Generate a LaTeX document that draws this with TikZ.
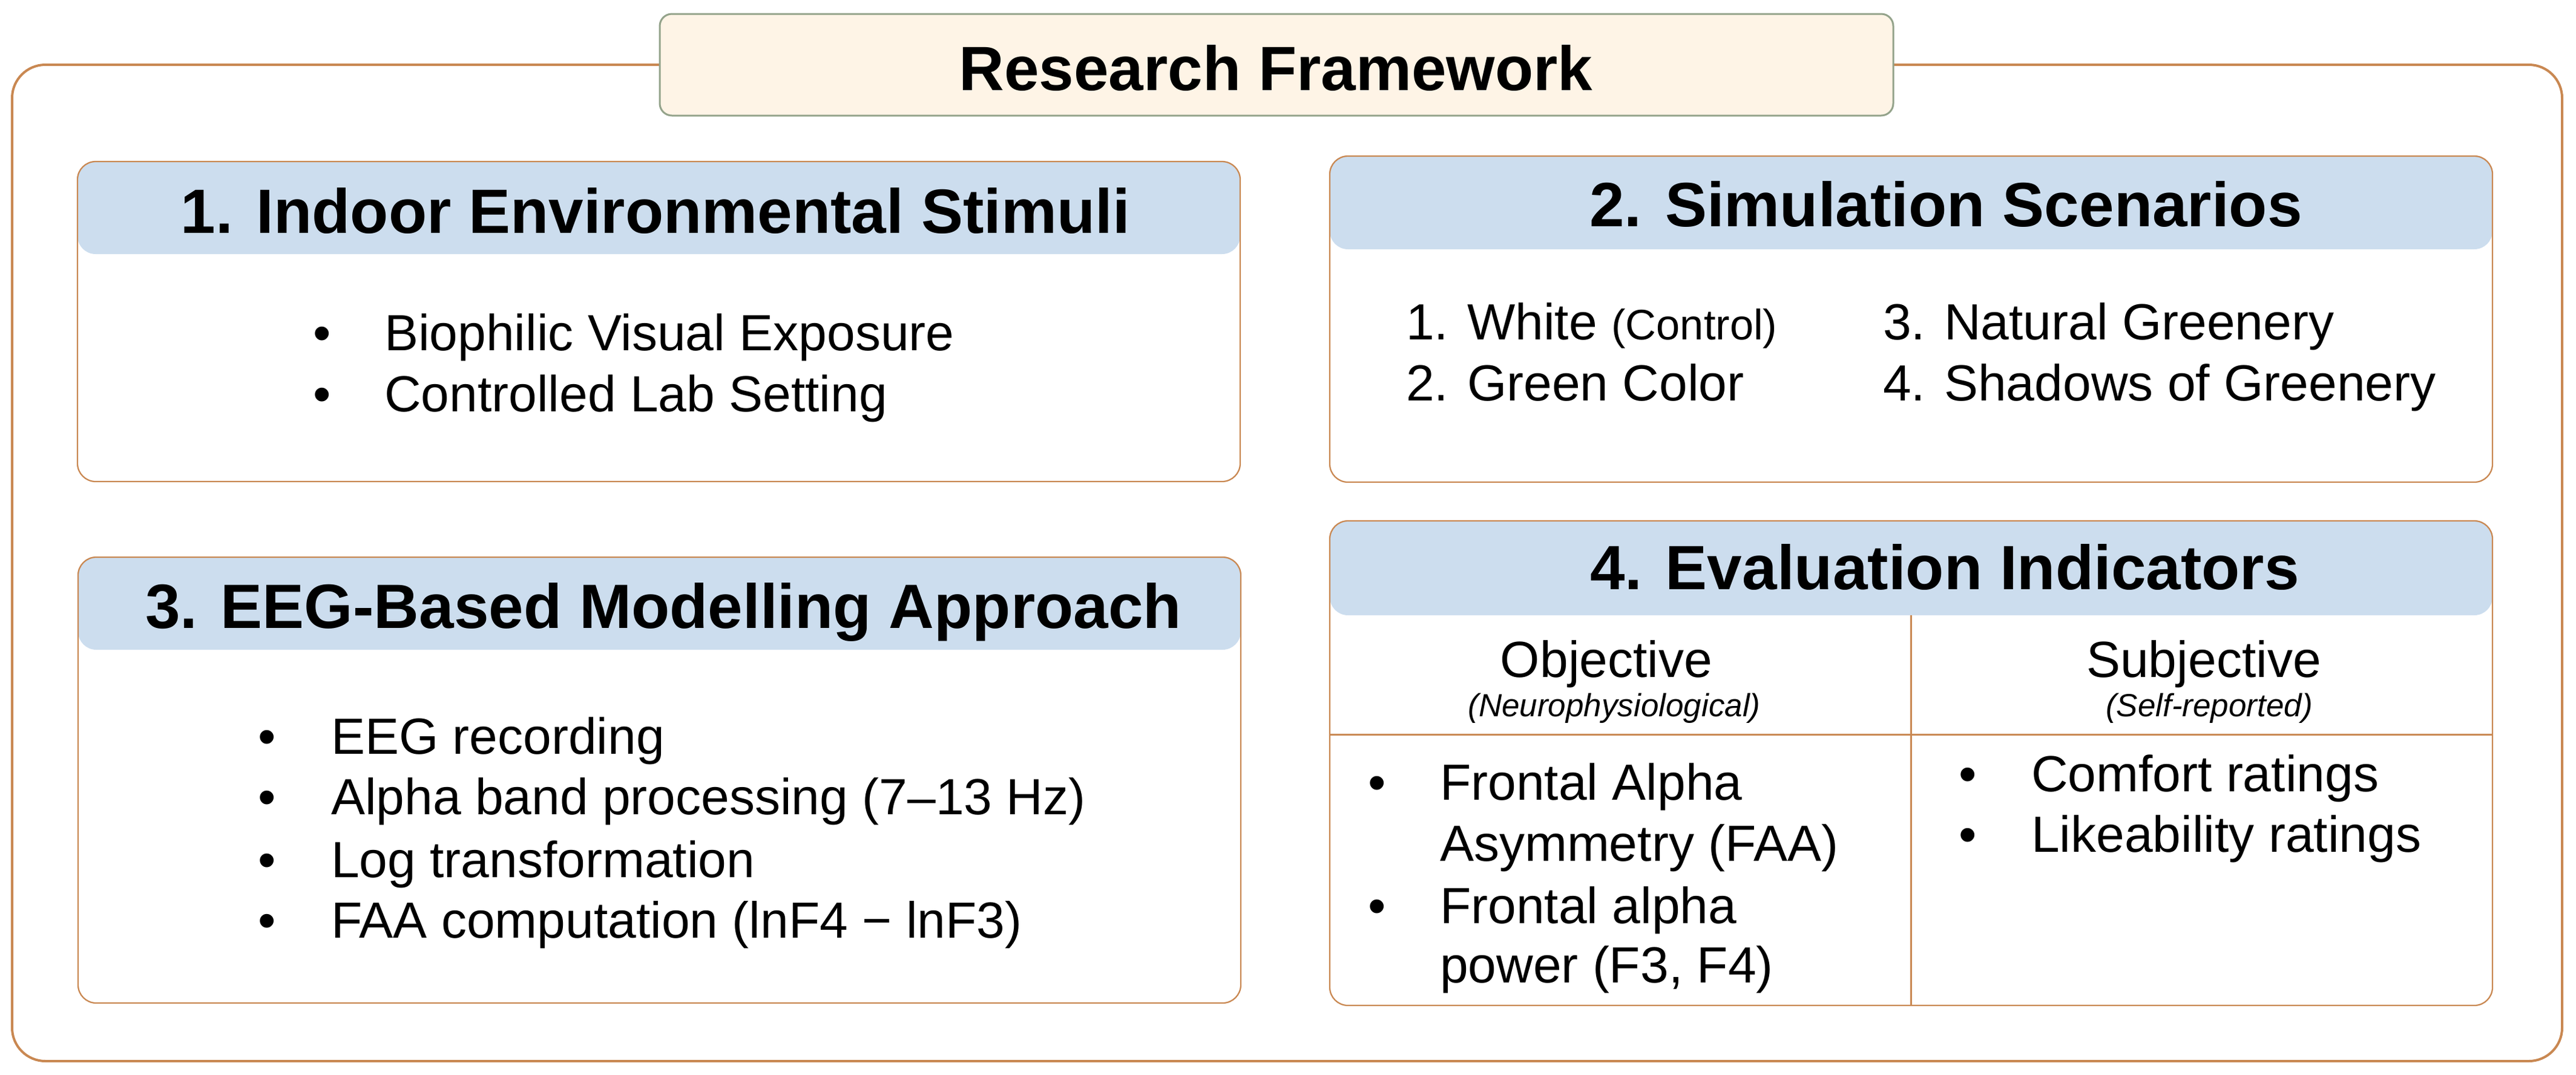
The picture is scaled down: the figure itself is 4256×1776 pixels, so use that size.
\documentclass[tikz,border=0pt]{standalone}
\usepackage{fontspec}
\setmainfont{Liberation Sans}
\usepackage{tikz}
\definecolor{framecol}{HTML}{C98852}
\definecolor{titleline}{HTML}{94A38B}
\definecolor{titlefill}{HTML}{FEF4E6}
\definecolor{bandfill}{HTML}{CCDDEE}

\begin{document}
\begin{tikzpicture}[x=0.2pt, y=-0.2pt,
    outerframe/.style={draw=framecol, line width=0.8pt, rounded corners=11pt},
    titlebox/.style={draw=titleline, fill=titlefill, line width=0.6pt, rounded corners=4pt},
    panel/.style={draw=framecol, line width=0.45pt, rounded corners=6pt},
    headband/.style={fill=bandfill, rounded corners=6pt},
    divider/.style={draw=framecol, line width=0.6pt},
    headtxt/.style={anchor=base, inner sep=0pt, font=\fontsize{20.7}{24}\selectfont\bfseries},
    bullettxt/.style={anchor=base west, inner sep=0pt, font=\fontsize{16.8}{20}\selectfont},
    bulletdot/.style={anchor=base, inner sep=0pt, font=\fontsize{16.8}{20}\selectfont},
    subnote/.style={anchor=base, inner sep=0pt, font=\fontsize{10.6}{12}\selectfont\itshape}]
        \useasboundingbox (0,0) rectangle (4256,1776);

        % outer frame and title
        \draw[outerframe] (20,107) rectangle (4233,1754);
        \draw[titlebox] (1090,23) rectangle (3128,191);
        \node[headtxt] (title) at (2108,149) {Research Framework};

        % 1. stimuli
        \fill[headband] (128,267) rectangle (2049,420);
        \draw[panel] (128,267) rectangle (2049,796);
        \node[headtxt] (h1) at (1083,385) {1. Indoor Environmental Stimuli};
        \node[bulletdot] (d1a) at (532,579) {•};
        \node[bullettxt] (t1a) at (634,579) {Biophilic Visual Exposure};
        \node[bulletdot] (d1b) at (532,680) {•};
        \node[bullettxt] (t1b) at (634,680) {Controlled Lab Setting};

        % 2. scenarios
        \fill[headband] (2197,258) rectangle (4118,412);
        \draw[panel] (2197,258) rectangle (4118,797);
        \node[headtxt] (h2) at (3215,374) {2. Simulation Scenarios};
        \node[bullettxt] (s1) at (2322,561) {1. White {\fontsize{14.1}{16}\selectfont(Control)}};
        \node[bullettxt] (s2) at (2322,662) {2. Green Color};
        \node[bullettxt] (s3) at (3110,561) {3. Natural Greenery};
        \node[bullettxt] (s4) at (3110,662) {4. Shadows of Greenery};

        % 3. modelling
        \fill[headband] (129,921) rectangle (2050,1074);
        \draw[panel] (129,921) rectangle (2050,1658);
        \node[headtxt] (h3) at (1096,1038) {3. EEG-Based Modelling Approach};
        \node[bulletdot] (d3a) at (441,1246) {•};
        \node[bullettxt] (t3a) at (546,1246) {EEG recording};
        \node[bulletdot] (d3b) at (441,1346) {•};
        \node[bullettxt] (t3b) at (546,1346) {Alpha band processing (7–13 Hz)};
        \node[bulletdot] (d3c) at (441,1450) {•};
        \node[bullettxt] (t3c) at (546,1450) {Log transformation};
        \node[bulletdot] (d3d) at (441,1550) {•};
        \node[bullettxt] (t3d) at (546,1550) {FAA computation (lnF4 − lnF3)};

        % 4. indicators
        \fill[headband] (2197,861) rectangle (4118,1017);
        \draw[panel] (2197,861) rectangle (4118,1662);
        \draw[divider] (3157,1017) -- (3157,1662);
        \draw[divider] (2197,1214) -- (4118,1214);
        \node[headtxt] (h4) at (3213,974) {4. Evaluation Indicators};
        \node[bulletdot] (obj) at (2654,1119) {Objective};
        \node[subnote] (objn) at (2667,1184) {(Neurophysiological)};
        \node[bulletdot] (subj) at (3641,1119) {Subjective};
        \node[subnote] (subjn) at (3650,1184) {(Self-reported)};
        \node[bulletdot] (d4a) at (2275,1322) {•};
        \node[bullettxt] (t4a) at (2378,1322) {Frontal Alpha};
        \node[bullettxt] (t4b) at (2378,1423) {Asymmetry (FAA)};
        \node[bulletdot] (d4c) at (2275,1526) {•};
        \node[bullettxt] (t4c) at (2378,1526) {Frontal alpha};
        \node[bullettxt] (t4d) at (2378,1624) {power (F3, F4)};
        \node[bulletdot] (d4e) at (3251,1308) {•};
        \node[bullettxt] (t4e) at (3355,1308) {Comfort ratings};
        \node[bulletdot] (d4f) at (3251,1408) {•};
        \node[bullettxt] (t4f) at (3355,1408) {Likeability ratings};
\end{tikzpicture}
\end{document}
